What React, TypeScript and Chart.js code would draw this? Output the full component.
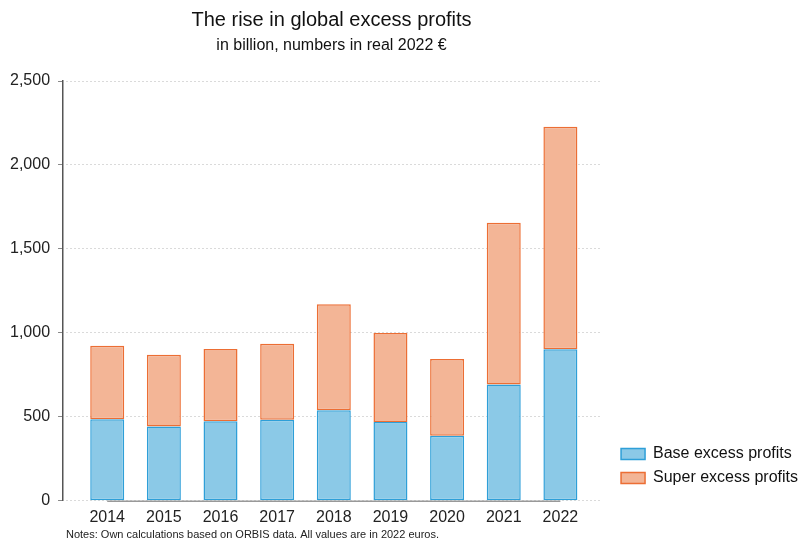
import { useEffect, useRef } from 'react';
import { Chart, registerables } from 'chart.js';

Chart.register(...registerables);

const years = [2014, 2015, 2016, 2017, 2018, 2019, 2020, 2021, 2022];
const baseProfits = [486, 442, 474, 482, 539, 470, 388, 693, 902];
const superProfits = [438, 428, 430, 454, 631, 530, 456, 963, 1325];
const yTicks = [0, 500, 1000, 1500, 2000, 2500];
const seriesNames = ['Base excess profits', 'Super excess profits'];
const titleText = 'The rise in global excess profits';
const subtitleText = 'in billion, numbers in real 2022 €';
const noteText = 'Notes: Own calculations based on ORBIS data. All values are in 2022 euros.';

const FONT = '"Liberation Sans", Arial, Helvetica, sans-serif';

const textPlugin = {
  id: 'texts',
  afterDraw(chart: any) {
    const { ctx, chartArea } = chart;
    const cx = (chartArea.left + chartArea.right) / 2;
    ctx.save();
    ctx.fillStyle = '#111';
    ctx.textAlign = 'center';
    ctx.textBaseline = 'middle';
    ctx.font = `20px ${FONT}`;
    ctx.fillText(titleText, cx, 20);
    ctx.font = `16px ${FONT}`;
    ctx.fillText(subtitleText, cx, 46);
    ctx.textAlign = 'left';
    ctx.font = `11px ${FONT}`;
    ctx.fillStyle = '#222';
    ctx.fillText(noteText, 66, 535);
    ctx.restore();
  },
};

const baselinePlugin = {
  id: 'baseline',
  beforeDatasetsDraw(chart: any) {
    const { ctx } = chart;
    const xs = chart.scales.x;
    const ys = chart.scales.y;
    const y = ys.getPixelForValue(0) + 0.5;
    ctx.save();
    ctx.strokeStyle = '#999';
    ctx.lineWidth = 1.5;
    ctx.beginPath();
    ctx.moveTo(xs.getPixelForValue(years[0]), y);
    ctx.lineTo(xs.getPixelForValue(years[years.length - 1]), y);
    ctx.stroke();
    ctx.restore();
  },
};

// nudge the built-in legend block to where the reference shows it
const legendShiftPlugin = {
  id: 'legendShift',
  afterLayout(chart: any) {
    const lg = chart.legend;
    if (!lg) return;
    const dx = 13;
    const dy = -40;
    lg.left += dx;
    lg.right += dx;
    lg.top += dy;
    lg.bottom += dy;
  },
};

export default function App() {
  const ref = useRef<HTMLCanvasElement>(null);
  useEffect(() => {
    if (!ref.current) return;
    const chart = new Chart(ref.current, {
      type: 'bar',
      data: {
        labels: years,
        datasets: [
          {
            label: seriesNames[0],
            data: baseProfits,
            backgroundColor: '#8bc9e7',
            borderColor: '#2e9fd8',
            borderWidth: 1.5,
            borderSkipped: false,
            categoryPercentage: 1,
            barPercentage: 0.6,
          },
          {
            label: seriesNames[1],
            data: superProfits,
            backgroundColor: '#f3b596',
            borderColor: '#ec6e34',
            borderWidth: 1.5,
            borderSkipped: false,
            categoryPercentage: 1,
            barPercentage: 0.6,
          },
        ],
      },
      options: {
        responsive: false,
        animation: false,
        layout: { padding: { top: 81, left: 2, bottom: 8, right: 4 } },
        plugins: {
          title: { display: false },
          tooltip: { enabled: false },
          legend: {
            position: 'right',
            align: 'end',
            labels: {
              boxWidth: 24,
              boxHeight: 11,
              padding: 8,
              color: '#111',
              font: { size: 16, family: FONT },
            },
          },
        },
        scales: {
          x: {
            type: 'linear',
            stacked: true,
            offset: false,
            min: 2013.22,
            max: 2022.7,
            afterBuildTicks: (scale: any) => {
              scale.ticks = years.map((v) => ({ value: v }));
            },
            ticks: {
              color: '#222',
              padding: 7,
              font: { size: 16, family: FONT },
              callback: (v: any) => String(v),
            },
            grid: { display: false, drawTicks: false, offset: false },
            border: { display: false },
          },
          y: {
            stacked: true,
            min: 0,
            max: 2500,
            afterBuildTicks: (scale: any) => {
              scale.ticks = yTicks.map((v) => ({ value: v }));
            },
            ticks: {
              color: '#222',
              padding: 8,
              font: { size: 16, family: FONT },
            },
            grid: {
              color: '#b4b4b4',
              lineWidth: 1,
              tickColor: '#888',
              tickLength: 5,
            },
            border: { display: true, color: '#555', width: 1.5, dash: [1, 3], dashOffset: -3 },
          },
        },
      },
      plugins: [textPlugin, baselinePlugin, legendShiftPlugin],
    });
    return () => chart.destroy();
  }, []);
  return (
    <div style={{ position: 'absolute', left: 0, top: 0, width: 799, height: 542, background: '#fff' }}>
      <canvas ref={ref} width={799} height={542} style={{ display: 'block' }} />
    </div>
  );
}
